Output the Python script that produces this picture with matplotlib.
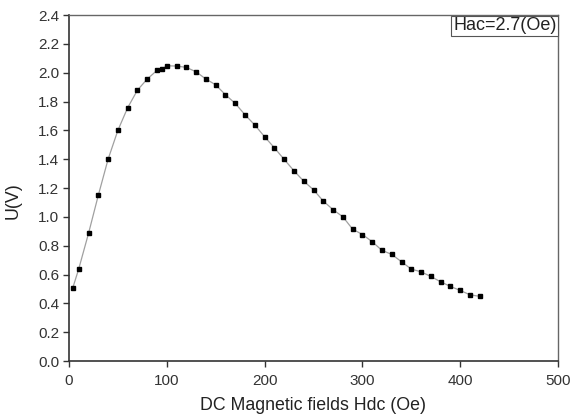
import matplotlib
matplotlib.use('Agg')
import matplotlib.pyplot as plt

# Datos
hdc = [4, 10, 20, 30, 40, 50, 60, 70, 80, 90, 95, 100, 110, 120, 130, 140, 150,
       160, 170, 180, 190, 200, 210, 220, 230, 240, 250, 260, 270, 280, 290,
       300, 310, 320, 330, 340, 350, 360, 370, 380, 390, 400, 410, 420]
u = [0.51, 0.64, 0.886, 1.15, 1.40, 1.60, 1.757, 1.879, 1.956, 2.016, 2.025,
     2.048, 2.046, 2.037, 2.006, 1.956, 1.916, 1.847, 1.787, 1.708, 1.637,
     1.556, 1.479, 1.399, 1.320, 1.248, 1.188, 1.110, 1.050, 1.001, 0.915,
     0.878, 0.828, 0.768, 0.740, 0.689, 0.638, 0.619, 0.587, 0.550, 0.518,
     0.490, 0.460, 0.449]

x_ticks = [0, 100, 200, 300, 400, 500]
y_ticks = [0.0, 0.2, 0.4, 0.6, 0.8, 1.0, 1.2, 1.4, 1.6, 1.8, 2.0, 2.2, 2.4]

plt.rcParams['font.family'] = ['Liberation Sans', 'DejaVu Sans']

fig = plt.figure(figsize=(5.7, 4.17), dpi=100)
ax = fig.add_axes([0.121, 0.134, 0.858, 0.830])

ax.plot(hdc, u, color='#a0a0a0', linewidth=0.9, zorder=1)
ax.plot(hdc, u, linestyle='none', marker='s', markersize=3.4, color='black', zorder=2)

ax.set_xlim(0, 500)
ax.set_ylim(0, 2.4)
ax.set_xticks(x_ticks)
ax.set_yticks(y_ticks)
ax.set_yticklabels([f'{v:.1f}' for v in y_ticks])
ax.tick_params(direction='out', length=4, width=1, labelsize=11, colors='#333333', pad=3)
ax.tick_params(axis='x', pad=5)

for s in ['left', 'bottom']:
    ax.spines[s].set_linewidth(1.2)
    ax.spines[s].set_color('#333333')
for s in ['top', 'right']:
    ax.spines[s].set_linewidth(1.0)
    ax.spines[s].set_color('#666666')

ax.set_xlabel('DC Magnetic fields Hdc (Oe)', fontsize=12.8, color='#222222', labelpad=7)
ax.set_ylabel('U(V)', fontsize=12.8, color='#222222')
ax.yaxis.set_label_coords(-0.096, 0.465)

ax.text(0.997, 0.993, 'Hac=2.7(Oe)', transform=ax.transAxes, ha='right', va='top',
        fontsize=13, color='#222222',
        bbox=dict(boxstyle='square,pad=0.1', facecolor='white', edgecolor='#555555', linewidth=0.8))

fig.savefig('out.png', dpi=100)
